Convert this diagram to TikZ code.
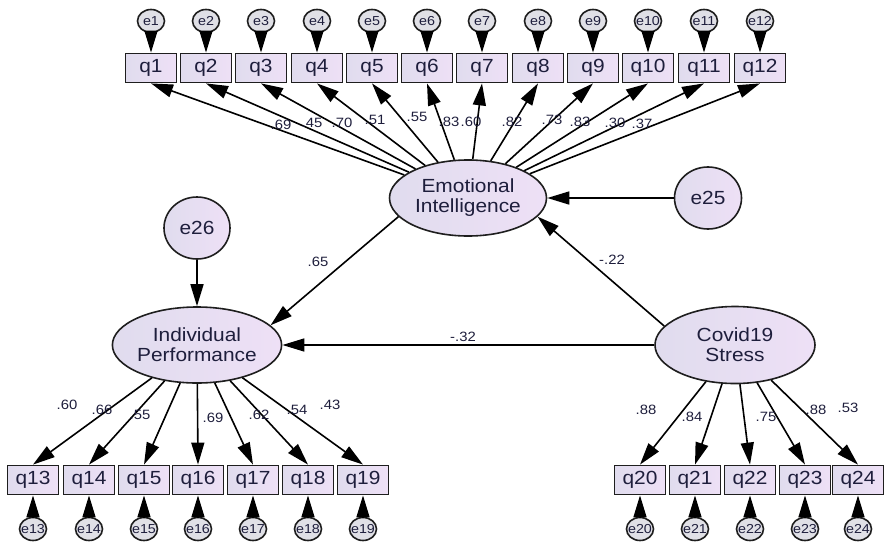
\documentclass[tikz,border=0pt]{standalone}
\usepackage{fontspec}
\setmainfont{Liberation Sans}[FakeStretch=1.1]
\usetikzlibrary{shapes.geometric,arrows.meta}
\definecolor{txt}{RGB}{30,30,60}
\definecolor{edgec}{RGB}{30,30,30}
\definecolor{boxL}{RGB}{224,220,238}
\definecolor{boxR}{RGB}{238,224,246}
\definecolor{errF}{RGB}{224,224,230}
\begin{document}
\begin{tikzpicture}[x=1pt,y=-1pt,
  box/.style={draw=edgec, line width=1.8pt, rectangle, minimum width=51pt, minimum height=29pt, inner sep=0pt, left color=boxL, right color=boxR, text=txt, font=\fontsize{19}{20}\selectfont},
  lat/.style={draw=edgec, line width=1.6pt, ellipse, inner sep=0pt, left color=boxL, right color=boxR, text=txt, align=center, font=\fontsize{19}{20}\selectfont},
  err/.style={draw=edgec, line width=1.6pt, ellipse, minimum width=27pt, minimum height=23pt, inner sep=0pt, fill=errF, text=txt, font=\fontsize{13}{13}\selectfont},
  arr/.style={draw=black, line width=1.6pt, -{Triangle[length=22pt,width=13pt]}},
  coef/.style={text=txt, font=\fontsize{13.5}{14}\selectfont, inner sep=0pt}]
\useasboundingbox (0,0) rectangle (884,544);
\fill[white] (0,0) rectangle (884,544);

% latent variables
\node[lat, minimum width=157pt, minimum height=76pt] (EI) at (468,198) {Emotional\\Intelligence};
\node[lat, minimum width=160pt, minimum height=76pt] (IP) at (197,345) {Individual\\Performance};
\node[lat, minimum width=160pt, minimum height=77pt] (CS) at (735,345) {Covid19\\Stress};
\node[lat, minimum width=67pt, minimum height=62pt] (e25) at (708,198) {e25};
\node[lat, minimum width=66pt, minimum height=62pt] (e26) at (197,228) {e26};

% top indicators
\foreach \i/\x in {1/151,2/206,3/261,4/317,5/372,6/427,7/482,8/538,9/593,10/648,11/704,12/760}{
  \node[box] (q\i) at (\x,68) {q\i};
  \node[err] (e\i) at (\x,21) {\makebox[0pt]{e\i}};
  \draw[arr] (e\i) -- (q\i);
  \draw[arr] (EI) -- (q\i.south);
}
% bottom left indicators
\foreach \i/\x in {13/33,14/89,15/144,16/198,17/253,18/308,19/363}{
  \node[box] (q\i) at (\x,480) {q\i};
  \node[err] (e\i) at (\x,529) {\makebox[0pt]{e\i}};
  \draw[arr] (e\i) -- (q\i);
  \draw[arr] (IP) -- (q\i.north);
}
% bottom right indicators
\foreach \i/\x in {20/640,21/695,22/750,23/805,24/858}{
  \node[box] (q\i) at (\x,480) {q\i};
  \node[err] (e\i) at (\x,529) {\makebox[0pt]{e\i}};
  \draw[arr] (e\i) -- (q\i);
  \draw[arr] (CS) -- (q\i.north);
}

% structural paths
\draw[arr] (e25) -- (EI);
\draw[arr] (e26) -- (IP);
\draw[arr] (EI.195) -- (IP.15);
\draw[arr] (CS.165) -- (EI.-15);
\draw[arr] (CS) -- (IP);

% coefficients
\foreach \n/\x/\y/\t in {1/281/125/.69,2/312/123/.45,3/342/123/.70,4/375/120/.51,5/417/117/.55,6/449/122/.83,7/471/122/.60,8/512/122/.82,9/552/120/.73,10/580/122/.83,11/615/123/.30,12/642/124/.37,
  13/67/405/.60,14/102/410/.66,15/140/415/.55,16/213/418/.69,17/259/415/.62,18/297/410/.54,19/330/405/.43,
  20/646/410/.88,21/692/417/.84,22/766/417/.75,23/816/410/.88,24/848/408/.53}{
  \node[coef] (c\n) at (\x,\y) {\t};
}
\node[coef] (c65) at (318,262) {.65};
\node[coef] (c22) at (612,260) {-.22};
\node[coef] (c32) at (463,337) {-.32};
\end{tikzpicture}
\end{document}
